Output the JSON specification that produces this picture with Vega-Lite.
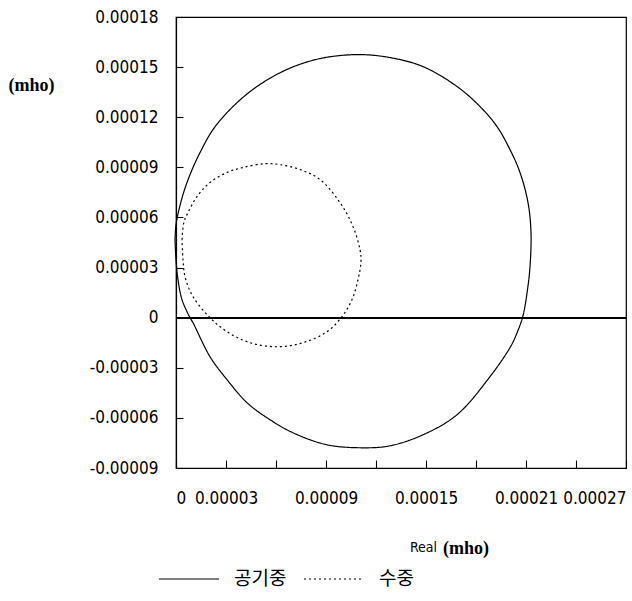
{
  "$schema": "https://vega.github.io/schema/vega-lite/v6.json",
  "autosize": {"type": "none"},
  "padding": {"left": 176, "top": 17, "right": 6, "bottom": 133},
  "width": 450,
  "height": 451,
  "background": "white",
  "config": {
    "view": {"stroke": "black", "strokeWidth": 1.2},
    "axis": {
      "domainColor": "black", "domainWidth": 1.2, "tickColor": "black", "tickWidth": 1.1,
      "labelColor": "black", "grid": false,
      "labelFont": "DejaVu Sans Condensed, Liberation Sans, sans-serif",
      "labelFontSize": 17, "labelOverlap": false
    }
  },
  "title": {
    "text": "(mho)", "orient": "bottom", "anchor": "start", "frame": "group",
    "dx": 267, "offset": 0, "dy": -49,
    "font": "Liberation Serif, DejaVu Serif, serif", "fontWeight": "bold", "fontSize": 18, "color": "black"
  },
  "data": {
    "values": [
      {"s": "공기중", "i": 1, "g": -6e-7, "b": 4.67e-5},
      {"s": "공기중", "i": 2, "g": 0, "b": 5.57e-5},
      {"s": "공기중", "i": 3, "g": 1.8e-6, "b": 6.47e-5},
      {"s": "공기중", "i": 4, "g": 4.2e-6, "b": 7.37e-5},
      {"s": "공기중", "i": 5, "g": 6.6e-6, "b": 8.09e-5},
      {"s": "공기중", "i": 6, "g": 1.02e-5, "b": 8.99e-5},
      {"s": "공기중", "i": 7, "g": 1.44e-5, "b": 9.88e-5},
      {"s": "공기중", "i": 8, "g": 2.22e-5, "b": 1.126e-4},
      {"s": "공기중", "i": 9, "g": 3.42e-5, "b": 1.264e-4},
      {"s": "공기중", "i": 10, "g": 4.86e-5, "b": 1.384e-4},
      {"s": "공기중", "i": 11, "g": 6.66e-5, "b": 1.486e-4},
      {"s": "공기중", "i": 12, "g": 8.64e-5, "b": 1.551e-4},
      {"s": "공기중", "i": 13, "g": 1.092e-4, "b": 1.575e-4},
      {"s": "공기중", "i": 14, "g": 1.284e-4, "b": 1.557e-4},
      {"s": "공기중", "i": 15, "g": 1.482e-4, "b": 1.503e-4},
      {"s": "공기중", "i": 16, "g": 1.686e-4, "b": 1.384e-4},
      {"s": "공기중", "i": 17, "g": 1.824e-4, "b": 1.264e-4},
      {"s": "공기중", "i": 18, "g": 1.926e-4, "b": 1.144e-4},
      {"s": "공기중", "i": 19, "g": 2.004e-4, "b": 1.006e-4},
      {"s": "공기중", "i": 20, "g": 2.064e-4, "b": 8.69e-5},
      {"s": "공기중", "i": 21, "g": 2.112e-4, "b": 6.89e-5},
      {"s": "공기중", "i": 22, "g": 2.13e-4, "b": 5.09e-5},
      {"s": "공기중", "i": 23, "g": 2.124e-4, "b": 3.05e-5},
      {"s": "공기중", "i": 24, "g": 2.109e-4, "b": 1.68e-5},
      {"s": "공기중", "i": 25, "g": 2.082e-4, "b": 1.2e-6},
      {"s": "공기중", "i": 26, "g": 2.049e-4, "b": -8.4e-6},
      {"s": "공기중", "i": 27, "g": 2.007e-4, "b": -1.74e-5},
      {"s": "공기중", "i": 28, "g": 1.884e-4, "b": -3.53e-5},
      {"s": "공기중", "i": 29, "g": 1.686e-4, "b": -5.81e-5},
      {"s": "공기중", "i": 30, "g": 1.482e-4, "b": -7.01e-5},
      {"s": "공기중", "i": 31, "g": 1.284e-4, "b": -7.67e-5},
      {"s": "공기중", "i": 32, "g": 1.122e-4, "b": -7.79e-5},
      {"s": "공기중", "i": 33, "g": 9.06e-5, "b": -7.61e-5},
      {"s": "공기중", "i": 34, "g": 7.02e-5, "b": -6.89e-5},
      {"s": "공기중", "i": 35, "g": 5.64e-5, "b": -6.11e-5},
      {"s": "공기중", "i": 36, "g": 4.26e-5, "b": -5.09e-5},
      {"s": "공기중", "i": 37, "g": 3.06e-5, "b": -3.71e-5},
      {"s": "공기중", "i": 38, "g": 2.04e-5, "b": -2.34e-5},
      {"s": "공기중", "i": 39, "g": 1.02e-5, "b": -3.0e-6},
      {"s": "공기중", "i": 40, "g": 8.4e-6, "b": 0},
      {"s": "공기중", "i": 41, "g": 3.6e-6, "b": 1.08e-5},
      {"s": "공기중", "i": 42, "g": 1.2e-6, "b": 2.28e-5},
      {"s": "공기중", "i": 43, "g": 0, "b": 3.47e-5},
      {"s": "공기중", "i": 44, "g": -6e-7, "b": 4.67e-5},
      {"s": "수중", "i": 1, "g": 3.6e-6, "b": 4.67e-5},
      {"s": "수중", "i": 2, "g": 4.8e-6, "b": 5.75e-5},
      {"s": "수중", "i": 3, "g": 7.2e-6, "b": 6.29e-5},
      {"s": "수중", "i": 4, "g": 1.26e-5, "b": 7.25e-5},
      {"s": "수중", "i": 5, "g": 2.04e-5, "b": 8.09e-5},
      {"s": "수중", "i": 6, "g": 3.06e-5, "b": 8.69e-5},
      {"s": "수중", "i": 7, "g": 4.02e-5, "b": 8.99e-5},
      {"s": "수중", "i": 8, "g": 5.34e-5, "b": 9.22e-5},
      {"s": "수중", "i": 9, "g": 6.24e-5, "b": 9.16e-5},
      {"s": "수중", "i": 10, "g": 7.44e-5, "b": 8.87e-5},
      {"s": "수중", "i": 11, "g": 8.64e-5, "b": 8.27e-5},
      {"s": "수중", "i": 12, "g": 9.84e-5, "b": 6.89e-5},
      {"s": "수중", "i": 13, "g": 1.062e-4, "b": 5.45e-5},
      {"s": "수중", "i": 14, "g": 1.104e-4, "b": 4.07e-5},
      {"s": "수중", "i": 15, "g": 1.11e-4, "b": 3.35e-5},
      {"s": "수중", "i": 16, "g": 1.092e-4, "b": 2.28e-5},
      {"s": "수중", "i": 17, "g": 1.056e-4, "b": 1.08e-5},
      {"s": "수중", "i": 18, "g": 9.96e-5, "b": 6e-7},
      {"s": "수중", "i": 19, "g": 9.06e-5, "b": -8.4e-6},
      {"s": "수중", "i": 20, "g": 7.62e-5, "b": -1.5e-5},
      {"s": "수중", "i": 21, "g": 6.06e-5, "b": -1.74e-5},
      {"s": "수중", "i": 22, "g": 4.44e-5, "b": -1.5e-5},
      {"s": "수중", "i": 23, "g": 3.06e-5, "b": -8.4e-6},
      {"s": "수중", "i": 24, "g": 2.04e-5, "b": 0},
      {"s": "수중", "i": 25, "g": 1.02e-5, "b": 1.26e-5},
      {"s": "수중", "i": 26, "g": 5.4e-6, "b": 2.46e-5},
      {"s": "수중", "i": 27, "g": 4.2e-6, "b": 3.47e-5},
      {"s": "수중", "i": 28, "g": 3.6e-6, "b": 4.67e-5}
    ]
  },
  "layer": [
    {
      "mark": {"type": "rule", "color": "black", "strokeWidth": 1.3},
      "encoding": {"y": {"datum": 0, "type": "quantitative"}}
    },
    {
      "mark": {"type": "line", "color": "black", "strokeWidth": 1.2, "interpolate": "catmull-rom"},
      "encoding": {
        "x": {
          "field": "g", "type": "quantitative",
          "scale": {"domain": [0, 0.00027], "nice": false, "zero": false},
          "axis": {
            "values": [0, 0.00003, 0.00006, 0.00009, 0.00012, 0.00015, 0.00018, 0.00021, 0.00024, 0.00027],
            "tickSize": -8, "labelPadding": 30, "labelFlush": true,
            "labelExpr": "datum.value == 0 ? '0' : (round(datum.value / 0.00003) % 2 == 1 ? format(datum.value, '.5f') : '')",
            "title": "Real", "titleX": 247, "titleY": 79, "titleBaseline": "middle", "titleAlign": "center",
            "titleFont": "DejaVu Sans Condensed, Liberation Sans, sans-serif",
            "titleFontSize": 14, "titleFontWeight": "normal", "titleColor": "black"
          }
        },
        "y": {
          "field": "b", "type": "quantitative",
          "scale": {"domain": [-0.00009, 0.00018], "nice": false, "zero": false},
          "axis": {
            "values": [-0.00009, -0.00006, -0.00003, 0, 0.00003, 0.00006, 0.00009, 0.00012, 0.00015, 0.00018],
            "tickSize": -7, "labelPadding": 25,
            "labelExpr": "datum.value == 0 ? '0' : (datum.value < 0 ? '-' : '') + format(abs(datum.value), '.5f')",
            "title": "(mho)", "titleAngle": 0, "titleX": -168, "titleY": 68, "titleAlign": "left", "titleBaseline": "middle",
            "titleFont": "Liberation Serif, DejaVu Serif, serif", "titleFontWeight": "bold", "titleFontSize": 18, "titleColor": "black"
          }
        },
        "order": {"field": "i", "type": "quantitative"},
        "detail": {"field": "s"},
        "strokeDash": {
          "field": "s", "type": "nominal",
          "scale": {"domain": ["공기중", "수중"], "range": [[1, 0], [2, 3]]},
          "legend": {
            "orient": "none", "legendX": -18, "legendY": 531, "direction": "horizontal", "title": null,
            "symbolType": "stroke", "symbolSize": 3600, "symbolStrokeWidth": 1.2, "symbolStrokeColor": "black",
            "labelFont": "Noto Sans CJK KR", "labelFontSize": 19, "labelColor": "black", "labelOffset": 14, "columnPadding": 14
          }
        }
      }
    }
  ]
}
